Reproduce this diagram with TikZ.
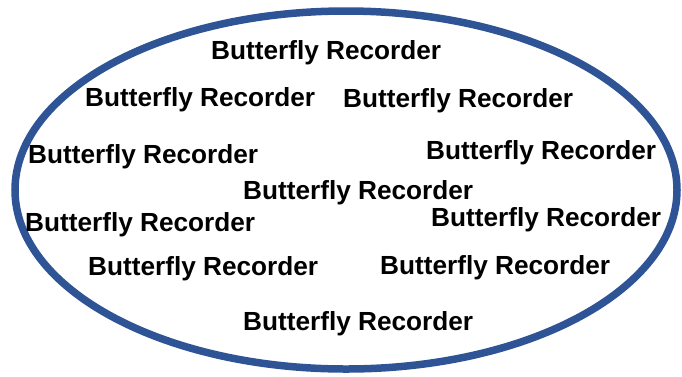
\documentclass[tikz,border=0pt]{standalone}
\usepackage{fontspec}
\setmainfont{Liberation Sans}
\definecolor{ringblue}{RGB}{47,84,150}
\begin{document}
\begin{tikzpicture}[x=1pt,y=-1pt,
  lbl/.style={anchor=base west,inner sep=0pt,font=\fontsize{26.2}{30}\selectfont\bfseries}]
\useasboundingbox (0,0) rectangle (682,376);
\draw[ringblue,line width=7.5pt] (346,190) ellipse [x radius=331, y radius=179];
\node[lbl] (t1) at (211,59) {Butterfly Recorder};
\node[lbl] (t2) at (85,106) {Butterfly Recorder};
\node[lbl] (t3) at (343,107) {Butterfly Recorder};
\node[lbl] (t4) at (28,163) {Butterfly Recorder};
\node[lbl] (t5) at (426,159) {Butterfly Recorder};
\node[lbl] (t6) at (243,199) {Butterfly Recorder};
\node[lbl] (t7) at (25,231) {Butterfly Recorder};
\node[lbl] (t8) at (431,226) {Butterfly Recorder};
\node[lbl] (t9) at (88,275) {Butterfly Recorder};
\node[lbl] (t10) at (380,274) {Butterfly Recorder};
\node[lbl] (t11) at (243,330) {Butterfly Recorder};
\end{tikzpicture}
\end{document}
